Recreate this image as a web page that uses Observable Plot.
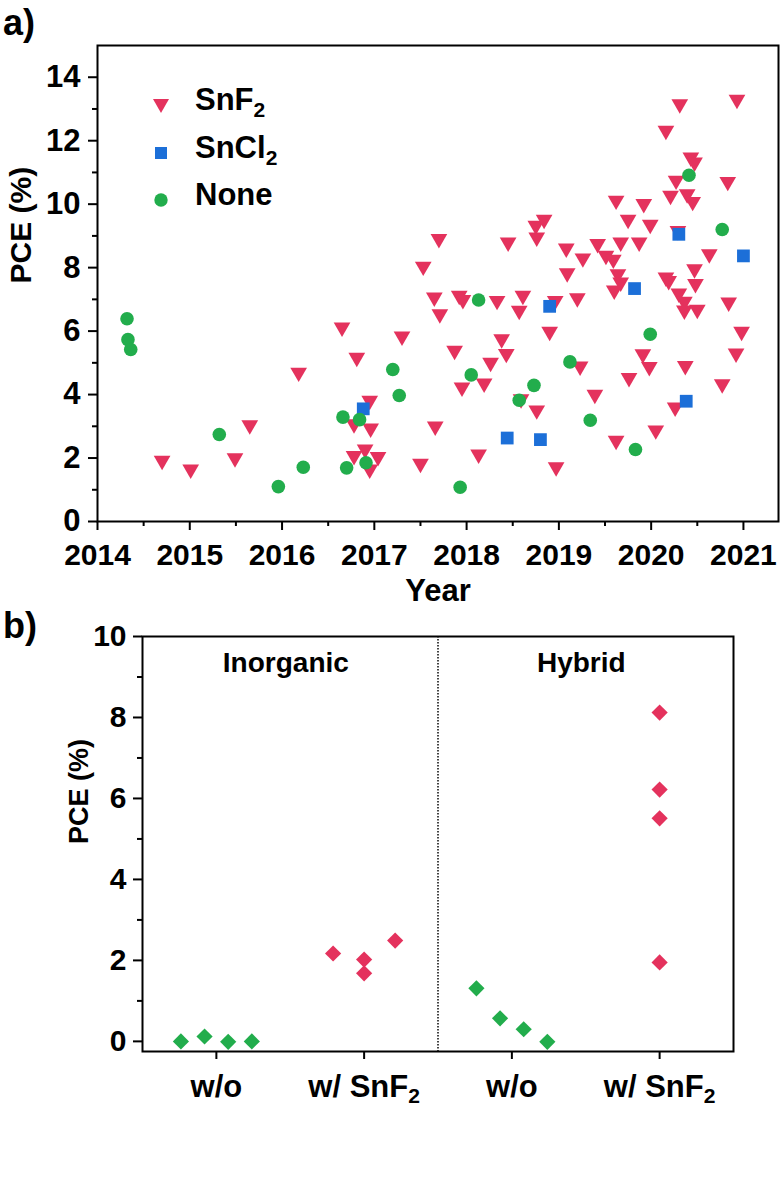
<!DOCTYPE html>
<html>
<head>
<meta charset="utf-8">
<script src="https://cdn.jsdelivr.net/npm/d3@7"></script>
<script src="https://cdn.jsdelivr.net/npm/@observablehq/plot@0.6"></script>
<style>
  body { margin: 0; background: #fff; }
  #wrap { position: relative; width: 782px; height: 1178px; overflow: hidden;
          font-family: "Liberation Sans", Arial, sans-serif; font-weight: bold; color: #000; }
  #wrap svg { display: block; }
  .plabel { position: absolute; font-size: 36px; font-weight: bold; line-height: 1; }
  .ltext { position: absolute; font-size: 31px; line-height: 1; white-space: nowrap; }
  .ltext sub { font-size: 21px; vertical-align: -7px; line-height: 0; }
  .lsym { position: absolute; }
</style>
</head>
<body>
<div id="wrap"></div>
<script>
// ---------------- Panel a data (PCE vs year) ----------------
const snf2Year = [2014.70, 2015.01, 2015.49, 2015.65, 2016.18, 2016.65, 2016.81, 2016.95, 2016.78, 2016.96,
  2016.90, 2016.78, 2017.04, 2016.95, 2017.30, 2017.50, 2017.66, 2017.53, 2017.70, 2017.65,
  2017.71, 2017.92, 2017.96, 2017.87, 2017.95, 2018.13, 2018.19, 2018.26, 2018.38, 2018.43,
  2018.33, 2018.45, 2018.61, 2018.57, 2018.59, 2018.76, 2018.75, 2018.84, 2018.76, 2018.96,
  2018.90, 2018.97, 2019.08, 2019.09, 2019.26, 2019.20, 2019.23, 2019.39, 2019.42, 2019.51,
  2019.59, 2019.67, 2019.87, 2019.62, 2019.75, 2019.92, 2019.99, 2019.64, 2019.67, 2019.60,
  2019.91, 2019.98, 2019.76, 2019.62, 2020.05, 2020.16, 2020.31, 2020.93, 2020.43, 2020.47,
  2020.27, 2020.21, 2020.39, 2020.45, 2020.83, 2020.29, 2020.63, 2020.16, 2020.19, 2020.47,
  2020.48, 2020.30, 2020.36, 2020.36, 2020.50, 2020.84, 2020.98, 2020.92, 2020.37, 2020.77,
  2020.26];
const snf2PCE = [1.98, 1.71, 2.06, 3.10, 4.76, 6.18, 5.23, 3.87, 3.13, 3.00,
  2.34, 2.13, 2.10, 1.71, 5.90, 1.89, 3.06, 8.10, 8.97, 7.13,
  6.60, 7.18, 7.05, 5.45, 4.29, 2.18, 4.42, 5.07, 5.81, 5.35,
  7.02, 8.86, 7.18, 6.71, 3.92, 3.57, 9.39, 9.58, 9.02, 7.02,
  6.05, 1.78, 8.67, 7.89, 8.36, 7.10, 4.95, 4.06, 8.81, 8.44,
  8.32, 8.86, 8.86, 10.18, 9.58, 10.07, 9.42, 7.86, 7.60, 7.35,
  5.34, 4.94, 4.59, 2.61, 2.94, 12.38, 13.22, 13.36, 11.54, 11.38,
  10.81, 10.33, 10.38, 10.14, 10.77, 9.22, 8.49, 7.76, 7.65, 8.02,
  7.55, 7.25, 6.99, 6.72, 6.74, 6.97, 6.05, 5.36, 4.97, 4.39,
  3.66];

const sncl2Year = [2016.88, 2018.44, 2018.80, 2018.90, 2019.82, 2020.30, 2020.38, 2021.00];
const sncl2PCE  = [3.55, 2.63, 2.58, 6.78, 7.34, 9.05, 3.79, 8.37];

const noneYear = [2014.32, 2014.33, 2014.36, 2015.32, 2015.96, 2016.23, 2016.66, 2016.84, 2016.91, 2016.70,
  2017.20, 2017.27, 2017.93, 2018.13, 2018.05, 2018.57, 2018.73, 2019.12, 2019.34, 2019.99,
  2019.83, 2020.41, 2020.77];
const nonePCE = [6.39, 5.73, 5.42, 2.74, 1.10, 1.71, 3.29, 3.21, 1.85, 1.69,
  4.79, 3.97, 1.08, 6.98, 4.62, 3.82, 4.29, 5.03, 3.19, 5.90,
  2.27, 10.91, 9.20];

const yearTicks = [2014, 2015, 2016, 2017, 2018, 2019, 2020, 2021];
const yearMinor = [2014.5, 2015.5, 2016.5, 2017.5, 2018.5, 2019.5, 2020.5];
const pceTicksA = [0, 2, 4, 6, 8, 10, 12, 14];
const pceMinorA = [1, 3, 5, 7, 9, 11, 13];

// ---------------- Panel b data (category comparison) ----------------
const catLabels = ["w/o", "w/ SnF2", "w/o", "w/ SnF2"];
const groupNames = ["Inorganic", "Hybrid"];
const groupCenter = [0.47, 2.47];
const bCat    = [0, 0, 0, 0,  1, 1, 1, 1,  2, 2, 2, 2,  3, 3, 3, 3];
const bJitter = [-0.24, -0.08, 0.08, 0.24,  -0.21, 0, 0, 0.21,  -0.24, -0.08, 0.08, 0.24,  0, 0, 0, 0];
const bPCE    = [0.00, 0.12, -0.01, 0.00,  2.17, 2.02, 1.68, 2.49,  1.31, 0.57, 0.30, -0.01,  8.12, 6.22, 5.51, 1.95];
const bAdditive = ["none","none","none","none","SnF2","SnF2","SnF2","SnF2","none","none","none","none","SnF2","SnF2","SnF2","SnF2"];
const pceTicksB = [0, 2, 4, 6, 8, 10];
const pceMinorB = [1, 3, 5, 7, 9];

// ---------------- Styling ----------------
const RED = "#e4325d", BLUE = "#1c6fd8", GREEN = "#22ad4c";
const FONT = "'Liberation Sans', Arial, sans-serif";

const snf2 = snf2Year.map((y, i) => ({year: y, pce: snf2PCE[i]}));
const sncl2 = sncl2Year.map((y, i) => ({year: y, pce: sncl2PCE[i]}));
const none = noneYear.map((y, i) => ({year: y, pce: nonePCE[i]}));

const wrap = document.getElementById("wrap");

const plotA = Plot.plot({
  width: 782, height: 610,
  marginLeft: 97, marginRight: 4, marginTop: 45, marginBottom: 89,
  style: {fontFamily: FONT, fontWeight: "bold", fontSize: "31px", color: "#000", background: "#fff", overflow: "visible"},
  x: {domain: [2014, 2021.38]},
  y: {domain: [0, 15]},
  marks: [
    Plot.axisX({ticks: yearTicks, tickSize: 9, tickPadding: 13, tickFormat: d => String(d), strokeWidth: 2, label: null, fontSize: 30}),
    Plot.axisX({ticks: yearMinor, tickSize: 5, strokeWidth: 2, text: null, label: null}),
    Plot.axisY({ticks: pceTicksA, tickSize: 9, tickPadding: 8, strokeWidth: 2, label: null, fontSize: 31}),
    Plot.axisY({ticks: pceMinorA, tickSize: 5, strokeWidth: 2, text: null, label: null}),
    Plot.dot(snf2, {x: "year", y: "pce", symbol: "triangle", rotate: 180, r: 6.2, fill: RED, stroke: "none", dy: 2}),
    Plot.dot(sncl2, {x: "year", y: "pce", symbol: "square", r: 7.2, fill: BLUE, stroke: "none"}),
    Plot.dot(none, {x: "year", y: "pce", symbol: "circle", r: 6.8, fill: GREEN, stroke: "none"}),
    Plot.frame({stroke: "#000", strokeWidth: 2}),
    Plot.text(["Year"], {frameAnchor: "bottom", dy: 57, lineAnchor: "top", fontSize: 31, fontWeight: "bold", fill: "#000"}),
    Plot.text(["PCE (%)"], {frameAnchor: "left", dx: -76, rotate: -90, fontSize: 30, fontWeight: "bold", fill: "#000"})
  ]
});
wrap.appendChild(plotA);

const bData = bPCE.map((v, i) => ({pos: bCat[i] + bJitter[i], pce: v, additive: bAdditive[i]}));

const plotB = Plot.plot({
  width: 782, height: 568,
  marginLeft: 142, marginRight: 49, marginTop: 26, marginBottom: 127,
  style: {fontFamily: FONT, fontWeight: "bold", fontSize: "30px", color: "#000", background: "#fff", overflow: "visible"},
  x: {domain: [-0.5, 3.5]},
  y: {domain: [-0.25, 10]},
  color: {domain: ["none", "SnF2"], range: [GREEN, RED]},
  marks: [
    Plot.ruleX([1.5], {stroke: "#444", strokeWidth: 2, strokeDasharray: "1.5,1.5"}),
    Plot.axisX({ticks: [0, 1, 2, 3], tickSize: 8, tickPadding: 15, tickFormat: i => catLabels[i], strokeWidth: 2, label: null, fontSize: 31}),
    Plot.axisY({ticks: pceTicksB, tickSize: 9, tickPadding: 7, strokeWidth: 2, label: null, fontSize: 30}),
    Plot.axisY({ticks: pceMinorB, tickSize: 5, strokeWidth: 2, text: null, label: null}),
    Plot.dot(bData, {x: "pos", y: "pce", symbol: "diamond2", r: 7.3, fill: "additive", stroke: "none"}),
    Plot.frame({stroke: "#000", strokeWidth: 2}),
    Plot.text(groupNames, {x: (d, i) => groupCenter[i], y: 9.35, fontSize: 28, fontWeight: "bold", fill: "#000"}),
    Plot.text(["PCE (%)"], {frameAnchor: "left", dx: -63, rotate: -90, fontSize: 27, fontWeight: "bold", fill: "#000"})
  ]
});
wrap.appendChild(plotB);

// subscript 2 in "SnF2" tick labels
plotB.querySelectorAll("text").forEach(t => {
  if (t.textContent === "w/ SnF2") {
    t.innerHTML = 'w/ SnF<tspan dy="0.3em" font-size="0.68em">2</tspan>';
  }
});

// panel letters
const la = document.createElement("div"); la.className = "plabel"; la.textContent = "a)";
la.style.left = "3px"; la.style.top = "5px"; wrap.appendChild(la);
const lb = document.createElement("div"); lb.className = "plabel"; lb.textContent = "b)";
lb.style.left = "3px"; lb.style.top = "608px"; wrap.appendChild(lb);

// legend (panel a)
const legendItems = [
  {name: "SnF", sub: "2", symbol: "tri", color: RED, cy: 106, ty: 91},
  {name: "SnCl", sub: "2", symbol: "sq", color: BLUE, cy: 153, ty: 139},
  {name: "None", sub: "", symbol: "circ", color: GREEN, cy: 200, ty: 186}
];
legendItems.forEach(it => {
  const s = document.createElementNS("http://www.w3.org/2000/svg", "svg");
  s.setAttribute("width", 20); s.setAttribute("height", 20);
  s.setAttribute("class", "lsym");
  s.style.left = "151px"; s.style.top = (it.cy - 10) + "px";
  let shape;
  if (it.symbol === "tri") {
    shape = document.createElementNS("http://www.w3.org/2000/svg", "polygon");
    shape.setAttribute("points", "2,3 18,3 10,17");
  } else if (it.symbol === "sq") {
    shape = document.createElementNS("http://www.w3.org/2000/svg", "rect");
    shape.setAttribute("x", 4); shape.setAttribute("y", 4); shape.setAttribute("width", 12); shape.setAttribute("height", 12);
  } else {
    shape = document.createElementNS("http://www.w3.org/2000/svg", "circle");
    shape.setAttribute("cx", 10); shape.setAttribute("cy", 10); shape.setAttribute("r", 6.7);
  }
  shape.setAttribute("fill", it.color);
  s.appendChild(shape);
  wrap.appendChild(s);
  const t = document.createElement("div"); t.className = "ltext";
  t.innerHTML = it.name + (it.sub ? "<sub>" + it.sub + "</sub>" : "");
  t.style.left = "195px"; t.style.top = (it.ty - 7) + "px";
  wrap.appendChild(t);
});
</script>
</body>
</html>
